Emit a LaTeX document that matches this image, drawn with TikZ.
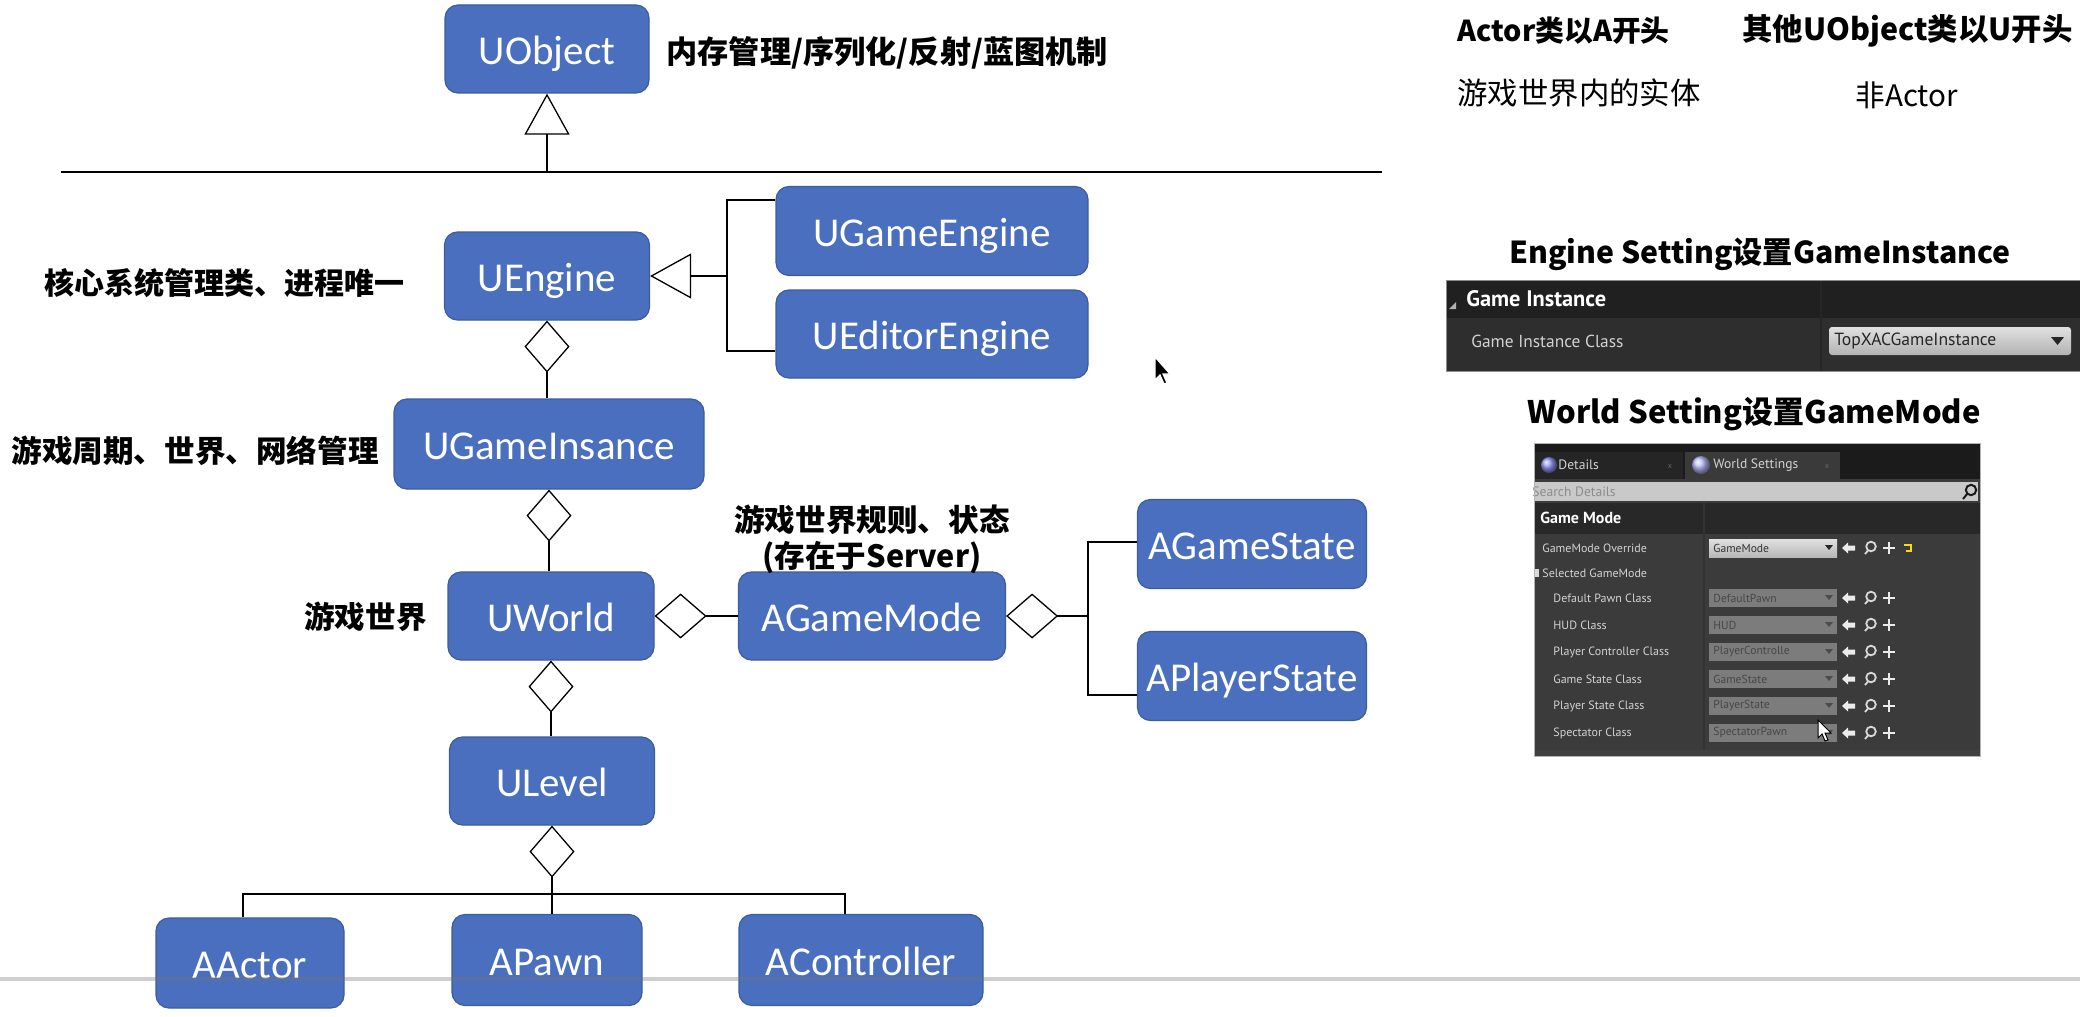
\documentclass[tikz,border=0pt]{standalone}
\usepackage{fontspec}
\usetikzlibrary{arrows.meta}
\newfontfamily\calfont{Carlito}
\newfontfamily\cjk{Noto Sans CJK SC}
\newfontfamily\uefont{PT Sans}
\definecolor{boxfill}{HTML}{4A6FBE}
\definecolor{boxline}{HTML}{3C5C9E}
\definecolor{gihead}{HTML}{202020}
\definecolor{girow}{HTML}{2E2E2E}
\definecolor{wsbar}{HTML}{1B1B1B}
\definecolor{wstab}{HTML}{252525}
\definecolor{wstabact}{HTML}{3A3A3A}
\definecolor{wshead}{HTML}{282828}
\definecolor{wsrow}{HTML}{3B3B3B}
\definecolor{ddark}{HTML}{7C7C7C}
\definecolor{dlight}{HTML}{C9C9C9}
\definecolor{uetext}{HTML}{D2D2D2}
\tikzset{
  cls/.style={draw=boxline, fill=boxfill, rounded corners=6.5pt, line width=0.6pt,
    inner sep=0pt, text=white, text height=18pt, text depth=2.8pt,
    font=\calfont\fontsize{20.5}{24}\selectfont},
  lbl/.style={inner sep=0pt, font=\cjk\bfseries\fontsize{15.3}{18}\selectfont},
  rlbl/.style={inner sep=0pt, font=\cjk\fontsize{15.2}{18}\selectfont},
  conn/.style={line width=0.65pt, draw=black},
  agg/.style={conn, {Diamond[open, length=26pt, width=22.5pt]}-},
  inh/.style={conn, -{Triangle[open, length=20.5pt, width=22.5pt]}},
  uerow/.style={inner sep=0pt, text=uetext, font=\uefont\fontsize{6}{7}\selectfont},
  uedd/.style={inner sep=0pt, text=black!80, font=\uefont\fontsize{5.8}{7}\selectfont},
  icon/.style={fill=white!92!black},
}
\begin{document}
\begin{tikzpicture}[x=0.5pt, y=-0.5pt]
\fill[white] (0,0) rectangle (2080,1016);
\useasboundingbox (0,0) rectangle (2080,1016);

% ---------------- class boxes ----------------
\node[cls, minimum width=102pt, minimum height=44pt] (UObject) at (547,49) {UObject};
\node[cls, minimum width=102.5pt, minimum height=44pt] (UEngine) at (547,276) {UEngine};
\node[cls, minimum width=156pt, minimum height=44.5pt] (UGameEngine) at (932,231) {UGameEngine};
\node[cls, minimum width=156pt, minimum height=44pt] (UEditorEngine) at (932,334) {UEditorEngine};
\node[cls, minimum width=155pt, minimum height=45pt] (UGameInsance) at (549,444) {UGameInsance};
\node[cls, minimum width=103pt, minimum height=44pt] (UWorld) at (551,616) {UWorld};
\node[cls, minimum width=133.5pt, minimum height=44pt] (AGameMode) at (872,616) {AGameMode};
\node[cls, minimum width=114.5pt, minimum height=44.5pt] (AGameState) at (1252,544) {AGameState};
\node[cls, minimum width=114.5pt, minimum height=44.5pt] (APlayerState) at (1252,676) {APlayerState};
\node[cls, minimum width=102.5pt, minimum height=44pt] (ULevel) at (552,781) {ULevel};
\node[cls, minimum width=94pt, minimum height=45pt] (AActor) at (250,963) {AActor};
\node[cls, minimum width=95pt, minimum height=45.5pt] (APawn) at (547,960) {APawn};
\node[cls, minimum width=122pt, minimum height=45.5pt] (AController) at (861,960) {AController};

% ---------------- labels ----------------
\node[lbl, anchor=west, font=\cjk\bfseries\fontsize{15.6}{19}\selectfont] (lObj) at (666,53) {内存管理/序列化/反射/蓝图机制};
\node[lbl, anchor=east, font=\cjk\bfseries\fontsize{15}{18}\selectfont] (lEng) at (405,283) {核心系统管理类、进程唯一};
\node[lbl, anchor=west] (lGI) at (11,451) {游戏周期、世界、网络管理};
\node[lbl, anchor=east] (lWorld) at (427,617) {游戏世界};
\node[lbl, align=center, font=\cjk\bfseries\fontsize{15.3}{18}\selectfont] (lGM) at (872,539) {游戏世界规则、状态\\(存在于Server)};

% ---------------- connectors ----------------
\coordinate (sepL) at (61,172);
\coordinate (sepR) at (1382,172);
\coordinate (sepJ) at (547,172);
\draw[conn] (sepL) -- (sepR);
\draw[inh] (sepJ) -- (UObject.south);

\coordinate (engJ) at (727,276);
\draw[inh] (engJ) -- (UEngine.east);
\draw[conn] ([yshift=15.5pt]UGameEngine.west) -| (engJ) |- ([yshift=-8.5pt]UEditorEngine.west);

\draw[agg] (UEngine.south) -- (UEngine.south |- UGameInsance.north);
\draw[agg] (UGameInsance.south) -- (UGameInsance.south |- UWorld.north);
\draw[agg] (UWorld.south) -- (UWorld.south |- ULevel.north);
\draw[agg] (UWorld.east) -- (AGameMode.west);

\coordinate (gmJ) at (1088,616);
\draw[agg] (AGameMode.east) -- (gmJ);
\draw[conn] ([yshift=1pt]AGameState.west) -| (gmJ) |- ([yshift=-9.5pt]APlayerState.west);

\coordinate (busM) at (552,894);
\coordinate (busL) at (243,894);
\coordinate (busR) at (845,894);
\draw[agg] (ULevel.south) -- (busM);
\draw[conn] (busL |- AActor.north) -- (busL) -- (busR) -- (busR |- AController.north);
\draw[conn] (busM) -- (busM |- APawn.north);

% ---------------- right-hand notes ----------------
\node[lbl, anchor=west, font=\cjk\bfseries\fontsize{14.4}{17}\selectfont] (nA) at (1457,31) {Actor类以A开头};
\node[lbl, anchor=west, font=\cjk\bfseries\fontsize{15.2}{17}\selectfont] (nU) at (1742,31) {其他UObject类以U开头};
\node[rlbl, anchor=west] (nA2) at (1457,93) {游戏世界内的实体};
\node[rlbl, anchor=west, font=\cjk\fontsize{14.8}{18}\selectfont] (nU2) at (1855,95) {非Actor};
\node[lbl, font=\cjk\bfseries\fontsize{15.1}{19}\selectfont] (hEng) at (1760,254) {Engine Setting设置GameInstance};
\node[lbl, font=\cjk\bfseries\fontsize{15.5}{19}\selectfont] (hWorld) at (1754,414) {World Setting设置GameMode};

% ---------------- Game Instance panel ----------------
\fill[gihead] (1446,280) rectangle (2080,318);
\fill[girow] (1446,318) rectangle (2080,371);
\draw[black!85, line width=0.6pt] (1821,280) -- (1821,371);
\draw[black!45, line width=0.5pt] (1446,280) rectangle (2080,371);
\fill[white!70!black] (1449,309) -- (1456,309) -- (1456,302) -- cycle;
\node[anchor=west, inner sep=0pt, text=white, font=\uefont\bfseries\fontsize{11.2}{13}\selectfont] (giHead) at (1466,299) {Game Instance};
\node[anchor=west, inner sep=0pt, text=uetext, font=\uefont\fontsize{8.7}{11}\selectfont] (giClass) at (1471,341) {Game Instance Class};
\shade[top color=white!88!black, bottom color=white!70!black, rounded corners=1.5pt] (1829,327) rectangle (2071,355);
\node[anchor=west, inner sep=0pt, text=black!85, font=\uefont\fontsize{8.8}{10}\selectfont] (giDrop) at (1834,341) {TopXACGameInstance};
\fill[black!85] (2051,337) -- (2064,337) -- (2057.5,345) -- cycle;

% ---------------- World Settings panel ----------------
\fill[wsrow] (1534,443) rectangle (1980,756);
\fill[wsbar] (1534,443) rectangle (1980,479);
\fill[wstab] (1534,452) rectangle (1683,479);
\fill[wstabact] (1685,452) rectangle (1840,479);
\shade[ball color=blue!40!white] (1549,465) circle[radius=4pt];
\node[anchor=west, inner sep=0pt, text=uetext, font=\uefont\fontsize{6.8}{8}\selectfont] (tDet) at (1558,465) {Details};
\node[inner sep=0pt, text=black!60, font=\uefont\fontsize{4}{5}\selectfont] (tDetX) at (1670,466) {x};
\shade[ball color=blue!25!white] (1701,465) circle[radius=4.5pt];
\node[anchor=west, inner sep=0pt, text=uetext, font=\uefont\fontsize{6.8}{8}\selectfont] (tWS) at (1713,465) {World Settings};
\node[inner sep=0pt, text=black!60, font=\uefont\fontsize{4}{5}\selectfont] (tWSX) at (1827,466) {x};
\fill[dlight] (1534,482) rectangle (1978,501);
\draw[black!90, line width=1pt] (1971,490) circle[radius=2.6pt] (1967,494) -- (1963,499);
\node[anchor=west, inner sep=0pt, text=black!45, font=\uefont\fontsize{6.8}{8}\selectfont] (tSearch) at (1532,492) {Search Details};
\fill[wshead] (1534,503) rectangle (1980,534);
\draw[black!80, line width=0.7pt] (1704,503) -- (1704,750);
\fill[black!75] (1534,750) rectangle (1980,756);
\node[anchor=west, inner sep=0pt, text=white, font=\uefont\bfseries\fontsize{8}{9}\selectfont] (tGM) at (1540,518) {Game Mode};
\node[uerow, anchor=west] (rOv) at (1542,548) {GameMode Override};
\fill[white!85!black] (1534,569) rectangle (1539,577);
\node[uerow, anchor=west] (rSel) at (1542,573) {Selected GameMode};
\shade[top color=white!88!black, bottom color=white!72!black] (1709,539) rectangle (1837,557);
\node[uedd, anchor=west] (dOv) at (1713,548) {GameMode};
\fill[black!85] (1825,545) -- (1833,545) -- (1829,550) -- cycle;
\draw[yellow!80!orange, line width=0.9pt] (1904,545) -- (1911,545) -- (1911,551) -- (1906,551);
\foreach \yy in {548,598,625,652,679,706,733}{
  \fill[icon] (1842,\yy) -- (1848,\yy-5.5) -- (1848,\yy-2.5) -- (1855,\yy-2.5) -- (1855,\yy+2.5) -- (1848,\yy+2.5) -- (1848,\yy+5.5) -- cycle;
  \draw[white!85!black, line width=0.9pt] (1871,\yy-1.5) circle[radius=2.4pt] (1868,\yy+2.5) -- (1865,\yy+6);
  \draw[white!92!black, line width=1.4pt] (1883,\yy) -- (1895,\yy) (1889,\yy-6) -- (1889,\yy+6);
}
\foreach \yy/\lab/\val in {598/Default Pawn Class/DefaultPawn, 625/HUD Class/HUD, 652/Player Controller Class/PlayerControlle, 679/Game State Class/GameState, 706/Player State Class/PlayerState, 733/Spectator Class/SpectatorPawn}{
  \node[uerow, anchor=west] (row\yy) at (1553,\yy) {\lab};
  \fill[ddark] (1709,\yy-9) rectangle (1837,\yy+9);
  \node[uedd, anchor=west, text=black!72] (val\yy) at (1713,\yy) {\val};
  \fill[black!70] (1825,\yy-3) -- (1833,\yy-3) -- (1829,\yy+2) -- cycle;
}
\draw[black!30, line width=0.5pt] (1534,443) rectangle (1980,756);

% ---------------- mouse cursors ----------------
\filldraw[fill=black, draw=white, line width=0.6pt] (1155,357) -- (1155,380) -- (1160,375) -- (1164,384) -- (1167,383) -- (1163,374) -- (1170,374) -- cycle;
\filldraw[fill=white, draw=black, line width=0.5pt] (1818,720) -- (1818,738) -- (1822,734) -- (1825,741) -- (1828,740) -- (1825,733) -- (1831,733) -- cycle;

% ---------------- video progress bar ----------------
\draw[black!55, opacity=0.35, line width=1.6pt] (0,979) -- (2080,979);
\end{tikzpicture}
\end{document}
